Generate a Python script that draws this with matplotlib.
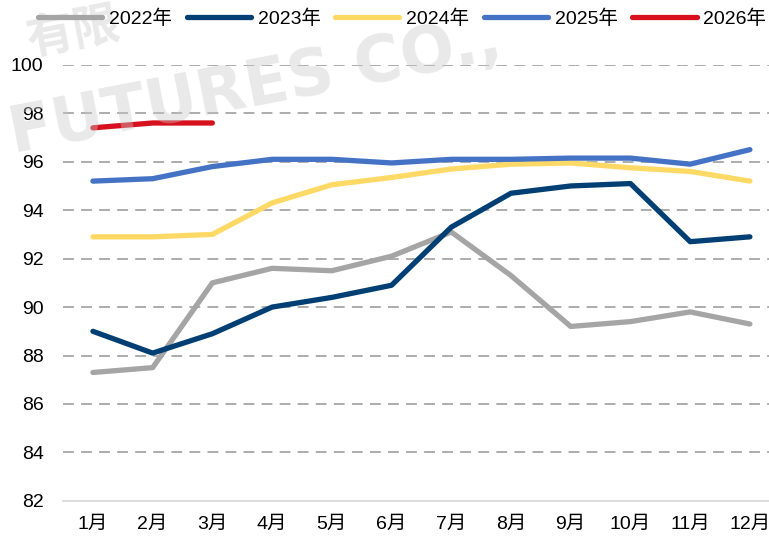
import numpy as np
import matplotlib as mpl
mpl.use('Agg')
import matplotlib.pyplot as plt

plt.rcParams['font.family'] = ['Liberation Sans', 'Noto Sans CJK SC', 'DejaVu Sans']

months = ["1月", "2月", "3月", "4月", "5月", "6月", "7月", "8月", "9月", "10月", "11月", "12月"]
y2022 = [87.3, 87.5, 91.0, 91.6, 91.5, 92.1, 93.1, 91.3, 89.2, 89.4, 89.8, 89.3]
y2023 = [89.0, 88.1, 88.9, 90.0, 90.4, 90.9, 93.3, 94.7, 95.0, 95.1, 92.7, 92.9]
y2024 = [92.9, 92.9, 93.0, 94.3, 95.05, 95.35, 95.7, 95.9, 95.95, 95.75, 95.6, 95.2]
y2025 = [95.2, 95.3, 95.8, 96.1, 96.1, 95.95, 96.1, 96.1, 96.15, 96.15, 95.9, 96.5]
y2026 = [97.4, 97.6, 97.6]

series = [("2022年", y2022, "#A5A5A5"),
          ("2023年", y2023, "#003F73"),
          ("2024年", y2024, "#FFD966"),
          ("2025年", y2025, "#4472C4"),
          ("2026年", y2026, "#D7101E")]

fig = plt.figure(figsize=(7.69, 5.45), dpi=100)
ax = fig.add_axes([0.082, 0.081, 0.932, 0.800])

# faint watermark
fig.text(0.005, 0.72, "FUTURES CO.,", fontsize=46, fontweight='bold', color='#C8C8C8',
         alpha=0.4, rotation=11, family='DejaVu Sans', zorder=0)
fig.text(0.03, 0.90, "有限", fontsize=34, fontweight='bold', color='#C8C8C8',
         alpha=0.4, rotation=11, family='Noto Sans CJK SC', zorder=0)

x = np.arange(len(months))
for name, vals, c in series:
    ax.plot(x[:len(vals)], vals, color=c, lw=3.8, label=name, solid_capstyle='round', zorder=3)

ax.set_xlim(-0.5, len(months) - 0.5)
ax.set_ylim(82, 100)
ax.set_yticks(np.arange(82, 101, 2))
ax.set_xticks(x)
ax.set_xticklabels(months)
ax.tick_params(axis='both', length=0, labelsize=14)
ax.tick_params(axis='x', pad=11)
ax.tick_params(axis='y', pad=14)
for yv in range(84, 101, 2):
    ax.axhline(yv, color='#A6A6A6', lw=1.3, ls=(0, (6, 4)), zorder=1)
for s in ['top', 'right', 'left']:
    ax.spines[s].set_visible(False)
ax.spines['bottom'].set_color('#D9D9D9')
ax.spines['bottom'].set_linewidth(1.3)
ax.patch.set_alpha(0)

fig.legend(loc='upper center', bbox_to_anchor=(0.523, 1.015), ncol=5, frameon=False,
           fontsize=14, handlelength=3.3, columnspacing=0.75, handletextpad=0.35)

fig.savefig("out.png", dpi=100)
